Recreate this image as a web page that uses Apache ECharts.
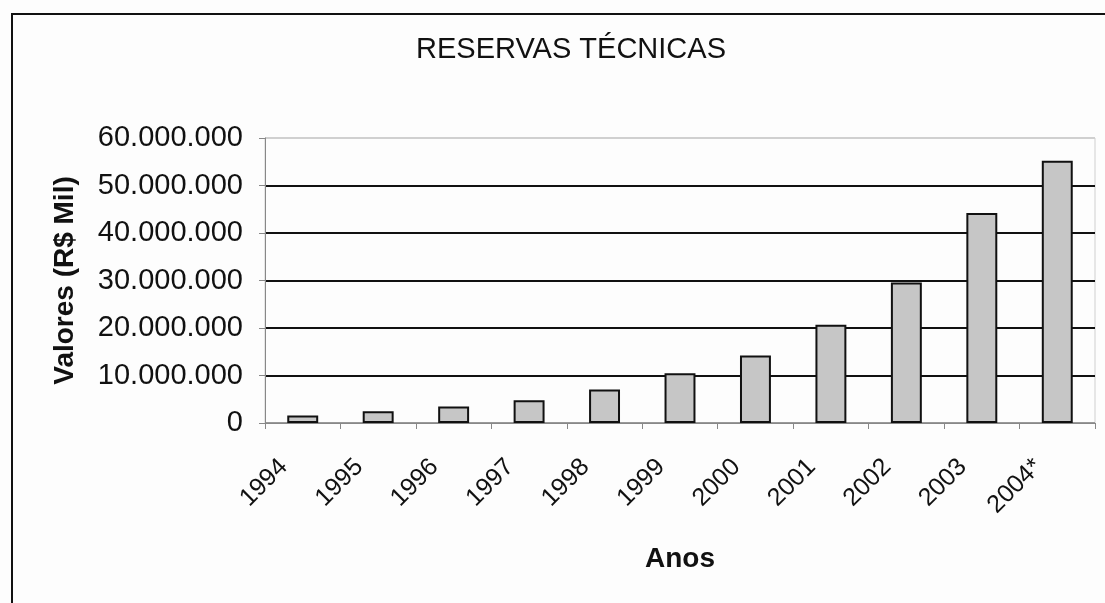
<!DOCTYPE html>
<html>
<head>
<meta charset="utf-8">
<script src="https://cdn.jsdelivr.net/npm/echarts@6/dist/echarts.min.js"></script>
<style>
html,body{margin:0;padding:0;background:#fdfdfd;}
#chart{width:1105px;height:603px;}
</style>
</head>
<body>
<div id="chart"></div>
<script>
const titleText = 'RESERVAS TÉCNICAS';
const categories = ['1994','1995','1996','1997','1998','1999','2000','2001','2002','2003','2004*'];
const reservas = [1600000, 2500000, 3500000, 4800000, 7050000, 10500000, 14200000, 20700000, 29600000, 44200000, 55200000];
const yTicks = [0, 10000000, 20000000, 30000000, 40000000, 50000000, 60000000];
const yName = 'Valores (R$ Mil)';
const xName = 'Anos';

function fmt(v){
  return String(Math.round(v)).replace(/\B(?=(\d{3})+(?!\d))/g, '.');
}

const chart = echarts.init(document.getElementById('chart'), null, {renderer:'canvas'});
chart.setOption({
  backgroundColor: '#fdfdfd',
  animation: false,
  title: {
    text: titleText,
    left: 566,
    top: 30,
    textAlign: 'center',
    textStyle: {fontFamily: 'Liberation Sans, Arial, sans-serif', fontSize: 29, fontWeight: 'normal', color: '#111'}
  },
  graphic: [{
    type: 'rect',
    shape: {x: 12, y: 14, width: 1200, height: 800},
    style: {fill: 'none', stroke: '#111', lineWidth: 2},
    silent: true
  }],
  grid: {left: 265, right: 10, top: 138, bottom: 180, show: true, borderColor: '#cfcfcf', borderWidth: 1, backgroundColor: 'transparent'},
  xAxis: {
    type: 'category',
    data: categories,
    name: xName,
    nameLocation: 'middle',
    nameGap: 122,
    nameTextStyle: {fontFamily: 'Liberation Sans, Arial, sans-serif', fontSize: 28, fontWeight: 'bold', color: '#111'},
    axisLine: {lineStyle: {color: '#888', width: 1}},
    axisTick: {show: true, alignWithLabel: false, length: 6, lineStyle: {color: '#888'}},
    axisLabel: {rotate: 45, margin: 21, padding: [0, 27, 0, 0], fontFamily: 'Liberation Sans, Arial, sans-serif', fontSize: 25, color: '#111', interval: 0}
  },
  yAxis: {
    type: 'value',
    min: 0,
    max: 60000000,
    interval: 10000000,
    name: yName,
    nameLocation: 'middle',
    nameRotate: 90,
    nameGap: 186,
    nameTextStyle: {fontFamily: 'Liberation Sans, Arial, sans-serif', fontSize: 28, fontWeight: 'bold', color: '#111'},
    axisLine: {show: true, lineStyle: {color: '#888', width: 1}},
    axisTick: {show: true, length: 6, lineStyle: {color: '#888'}},
    axisLabel: {margin: 22, fontFamily: 'Liberation Sans, Arial, sans-serif', fontSize: 29, color: '#111', formatter: fmt},
    splitLine: {show: true, lineStyle: {color: ['#999','#111','#111','#111','#111','#111','#d0d0d0'], width: 2}}
  },
  series: [{
    type: 'bar',
    data: reservas,
    barCategoryGap: '59%',
    itemStyle: {color: '#c6c6c6', borderColor: '#111', borderWidth: 2},
    z: 3
  }]
});
</script>
</body>
</html>
